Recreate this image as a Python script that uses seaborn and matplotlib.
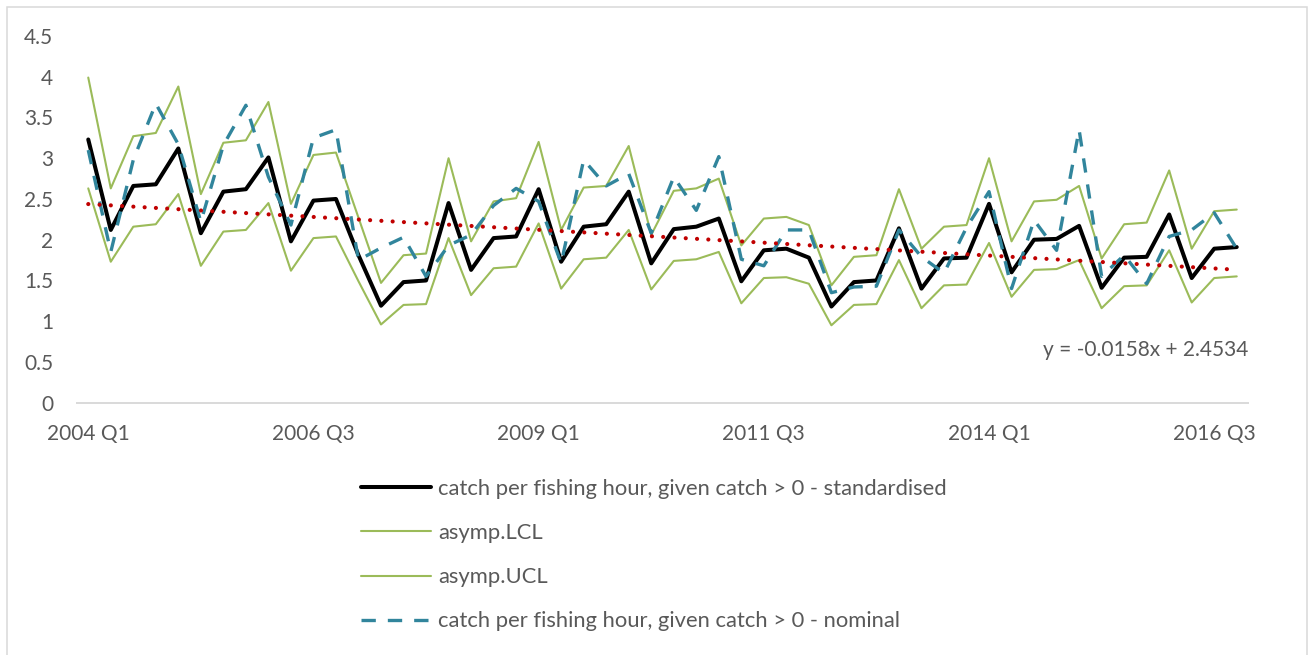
import numpy as np
import pandas as pd
import matplotlib
matplotlib.use("Agg")
import matplotlib.pyplot as plt
import matplotlib.transforms as mtransforms
import seaborn as sns
from matplotlib.patches import Rectangle

# ---------------- data ----------------
years = list(range(2004, 2017))
quarters = [f"{y} Q{q}" for y in years for q in range(1, 5)]

standardised = [3.23, 2.12, 2.66, 2.68, 3.12, 2.08, 2.59, 2.62, 3.01, 1.98, 2.48, 2.50,
                1.81, 1.19, 1.48, 1.50, 2.45, 1.63, 2.02, 2.04, 2.62, 1.73, 2.16, 2.19,
                2.59, 1.71, 2.13, 2.16, 2.26, 1.49, 1.87, 1.89, 1.78, 1.18, 1.48, 1.50,
                2.14, 1.40, 1.77, 1.78, 2.44, 1.60, 2.00, 2.01, 2.17, 1.41, 1.78, 1.79,
                2.31, 1.53, 1.89, 1.91]
asymp_lcl = [2.63, 1.73, 2.16, 2.19, 2.56, 1.68, 2.10, 2.12, 2.45, 1.62, 2.02, 2.04,
             1.49, 0.96, 1.20, 1.21, 2.02, 1.32, 1.65, 1.67, 2.20, 1.40, 1.76, 1.78,
             2.12, 1.39, 1.74, 1.76, 1.85, 1.22, 1.53, 1.54, 1.46, 0.95, 1.20, 1.21,
             1.75, 1.16, 1.44, 1.45, 1.96, 1.30, 1.63, 1.64, 1.75, 1.16, 1.43, 1.44,
             1.87, 1.23, 1.53, 1.55]
asymp_ucl = [3.99, 2.63, 3.27, 3.31, 3.88, 2.56, 3.19, 3.22, 3.69, 2.44, 3.04, 3.07,
             2.27, 1.47, 1.81, 1.83, 3.00, 1.98, 2.47, 2.51, 3.20, 2.12, 2.64, 2.66,
             3.15, 2.06, 2.60, 2.63, 2.75, 1.93, 2.26, 2.28, 2.18, 1.44, 1.79, 1.81,
             2.62, 1.89, 2.16, 2.18, 3.00, 1.98, 2.47, 2.49, 2.66, 1.77, 2.19, 2.21,
             2.85, 1.89, 2.35, 2.37]
nominal = [3.10, 1.85, 2.98, 3.67, 3.17, 2.22, 3.16, 3.65, 2.77, 2.18, 3.25, 3.35,
           1.75, 1.90, 2.03, 1.55, 1.93, 2.06, 2.42, 2.63, 2.47, 1.71, 2.98, 2.66,
           2.81, 2.08, 2.77, 2.36, 3.02, 1.76, 1.68, 2.12, 2.12, 1.35, 1.42, 1.43,
           2.12, 1.79, 1.59, 2.15, 2.59, 1.40, 2.24, 1.87, 3.35, 1.55, 1.81, 1.46,
           2.04, 2.12, 2.33, 1.89]
trend_slope = -0.0158
trend_intercept = 2.4534

x_tick_labels = ["2004 Q1", "2006 Q3", "2009 Q1", "2011 Q3", "2014 Q1", "2016 Q3"]
y_ticks = [0, 0.5, 1, 1.5, 2, 2.5, 3, 3.5, 4, 4.5]
y_tick_labels = ["0", "0.5", "1", "1.5", "2", "2.5", "3", "3.5", "4", "4.5"]

labels = ["catch per fishing hour, given catch > 0 - standardised",
          "asymp.LCL",
          "asymp.UCL",
          "catch per fishing hour, given catch > 0 - nominal"]

# ---------------- style ----------------
sns.set_theme(style="white")
plt.rcParams['font.family'] = ['Lato', 'DejaVu Sans']
TXT = "#595959"

W, H = 1313, 655
fig = plt.figure(figsize=(W / 100, H / 100), dpi=100)
x0, x1 = 77, 1248
y_zero, y_top = 402.7, 36.0
ax = fig.add_axes([x0 / W, (H - y_zero) / H, (x1 - x0) / W, (y_zero - y_top) / H])

df = pd.DataFrame({
    "idx": np.arange(len(quarters)),
    "quarter": quarters,
    "standardised": standardised,
    "lcl": asymp_lcl,
    "ucl": asymp_ucl,
    "nominal": nominal,
})
df["trend"] = trend_slope * (df["idx"] + 1) + trend_intercept

green = "#9BBB59"
sns.lineplot(data=df, x="idx", y="standardised", ax=ax, color="black", linewidth=2.9,
             solid_joinstyle="round", solid_capstyle="round", label=labels[0], zorder=3)
sns.lineplot(data=df, x="idx", y="lcl", ax=ax, color=green, linewidth=1.5,
             label=labels[1], zorder=2)
sns.lineplot(data=df, x="idx", y="ucl", ax=ax, color=green, linewidth=1.5,
             label=labels[2], zorder=2)
sns.lineplot(data=df, x="idx", y="nominal", ax=ax, color="#31859C", linewidth=2.4,
             linestyle=(0, (4.3, 3.6)), label=labels[3], zorder=4)
sns.lineplot(data=df, x="idx", y="trend", ax=ax, color="#C00000", linewidth=3.0,
             linestyle=(0, (0.01, 2.7)), legend=False,
             label="_nolegend_", zorder=5)
ax.lines[-1].set_dash_capstyle("round")

ax.set_xlim(-0.5, len(quarters) - 0.5)
ax.set_ylim(0, 4.5)
ax.set_xticks([quarters.index(q) for q in x_tick_labels])
ax.set_xticklabels(x_tick_labels)
ax.set_yticks(y_ticks)
ax.set_yticklabels(y_tick_labels)
ax.set_xlabel("")
ax.set_ylabel("")
ax.tick_params(axis="both", length=0, labelsize=15, labelcolor=TXT)
ax.tick_params(axis="y", pad=17)
ax.tick_params(axis="x", pad=15)
for s in ["top", "right", "left"]:
    ax.spines[s].set_visible(False)
ax.spines["bottom"].set_color("#D9D9D9")
ax.spines["bottom"].set_linewidth(1.4)
ax.grid(False)

ax.text(1.0, 0.647, "y = -0.0158x + 2.4534",
        transform=mtransforms.blended_transform_factory(ax.transAxes, ax.transData),
        ha="right", va="center", fontsize=15, color=TXT)

handles, labs = ax.get_legend_handles_labels()
leg = ax.legend(handles, labs, loc="upper left",
                bbox_to_anchor=(350 / W, (H - 468) / H), bbox_transform=fig.transFigure,
                frameon=False, borderpad=0, fontsize=15.8, handlelength=3.2,
                handletextpad=0.3, labelspacing=1.1, labelcolor=TXT)

fig.patches.append(Rectangle((6.7 / W, -0.1), (1306.7 - 6.7) / W, (H - 7.3) / H + 0.1,
                             transform=fig.transFigure, fill=False,
                             edgecolor="#D9D9D9", linewidth=1.1))

fig.savefig("out.png", dpi=100)
